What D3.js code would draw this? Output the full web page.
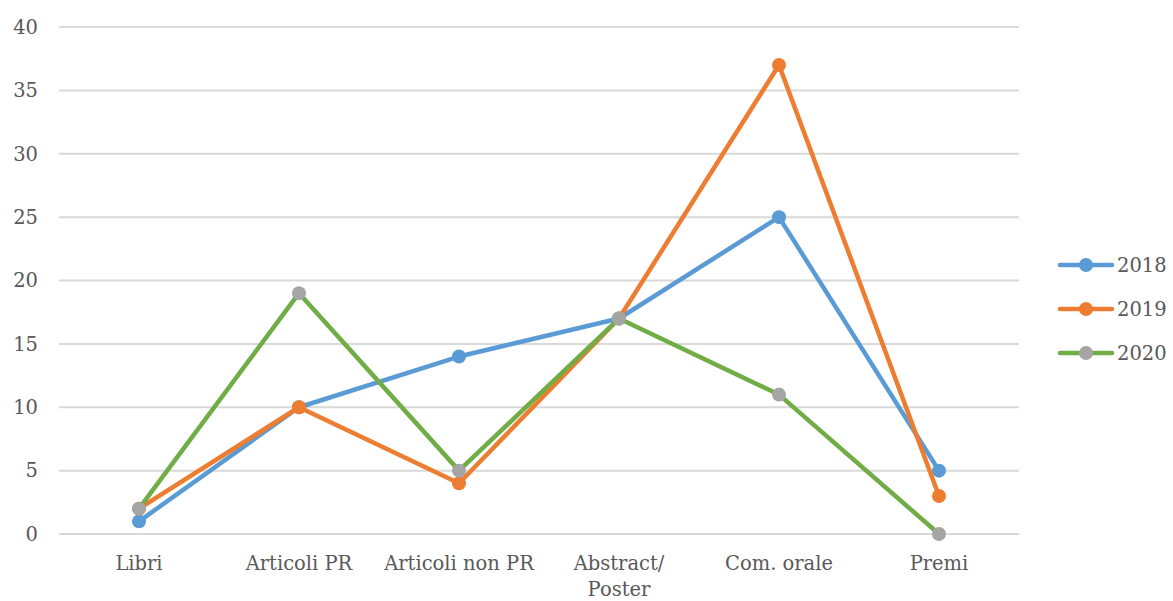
<!DOCTYPE html>
<html><head><meta charset="utf-8">
<script src="https://cdn.jsdelivr.net/npm/d3@7"></script>
<style>body{margin:0;background:#fff}</style>
</head><body>
<svg id="c" width="1173" height="601"></svg>
<script>
const categories = ["Libri", "Articoli PR", "Articoli non PR", "Abstract/\nPoster", "Com. orale", "Premi"];
const seriesNames = ["2018", "2019", "2020"];
const values2018 = [1, 10, 14, 17, 25, 5];
const values2019 = [2, 10, 4, 17, 37, 3];
const values2020 = [2, 19, 5, 17, 11, 0];
const yTicks = [0, 5, 10, 15, 20, 25, 30, 35, 40];
const lineColors = ["#5B9BD5", "#ED7D31", "#70AD47"];
const markerColors = ["#5B9BD5", "#ED7D31", "#A5A5A5"];
const allValues = [values2018, values2019, values2020];

(function () {
const svg = d3.select("#c");
const font = "'DejaVu Serif', serif";
const fs = "19.5px";
const pl = 59, pr = 1019, pt = 27, pb = 534;
const x = d3.scaleBand().domain(categories).range([pl, pr]);
const y = d3.scaleLinear().domain([0, 40]).range([pb, pt]);

svg.append("g").selectAll("line").data(yTicks).join("line")
  .attr("x1", pl).attr("x2", pr)
  .attr("y1", d => y(d)).attr("y2", d => y(d))
  .attr("stroke", "#D9D9D9").attr("stroke-width", 2);

svg.append("g").selectAll("text").data(yTicks).join("text")
  .attr("x", 38).attr("y", d => y(d)).attr("dy", "0.35em")
  .attr("text-anchor", "end").attr("fill", "#595959")
  .style("font-family", font).style("font-size", fs).text(d => d);

const xl = svg.append("g").selectAll("text").data(categories).join("text")
  .attr("x", d => x(d) + x.bandwidth() / 2).attr("y", 570)
  .attr("text-anchor", "middle").attr("fill", "#595959")
  .style("font-family", font).style("font-size", fs);
xl.each(function(d) {
  const parts = d.split("\n");
  const t = d3.select(this);
  parts.forEach((p, i) => {
    t.append("tspan").attr("x", x(d) + x.bandwidth() / 2).attr("dy", i === 0 ? 0 : 26).text(p);
  });
});

const line = d3.line().x((d, i) => x(categories[i]) + x.bandwidth() / 2).y(d => y(d));
allValues.forEach((vals, s) => {
  const g = svg.append("g");
  g.append("path").datum(vals).attr("d", line).attr("fill", "none")
    .attr("stroke", lineColors[s]).attr("stroke-width", 4.5).attr("stroke-linejoin", "round").attr("stroke-linecap", "round");
  g.selectAll("circle").data(vals).join("circle")
    .attr("cx", (d, i) => x(categories[i]) + x.bandwidth() / 2).attr("cy", d => y(d))
    .attr("r", 7).attr("fill", markerColors[s]);
});

const lg = svg.append("g");
seriesNames.forEach((n, i) => {
  const yy = 265 + i * 44;
  lg.append("line").attr("x1", 1060).attr("x2", 1112).attr("y1", yy).attr("y2", yy)
    .attr("stroke", lineColors[i]).attr("stroke-width", 4.5).attr("stroke-linecap", "round");
  lg.append("circle").attr("cx", 1086).attr("cy", yy).attr("r", 7).attr("fill", markerColors[i]);
  lg.append("text").attr("x", 1117).attr("y", yy).attr("dy", "0.35em").attr("fill", "#595959")
    .style("font-family", font).style("font-size", fs).text(n);
});
})();
</script>
</body></html>
